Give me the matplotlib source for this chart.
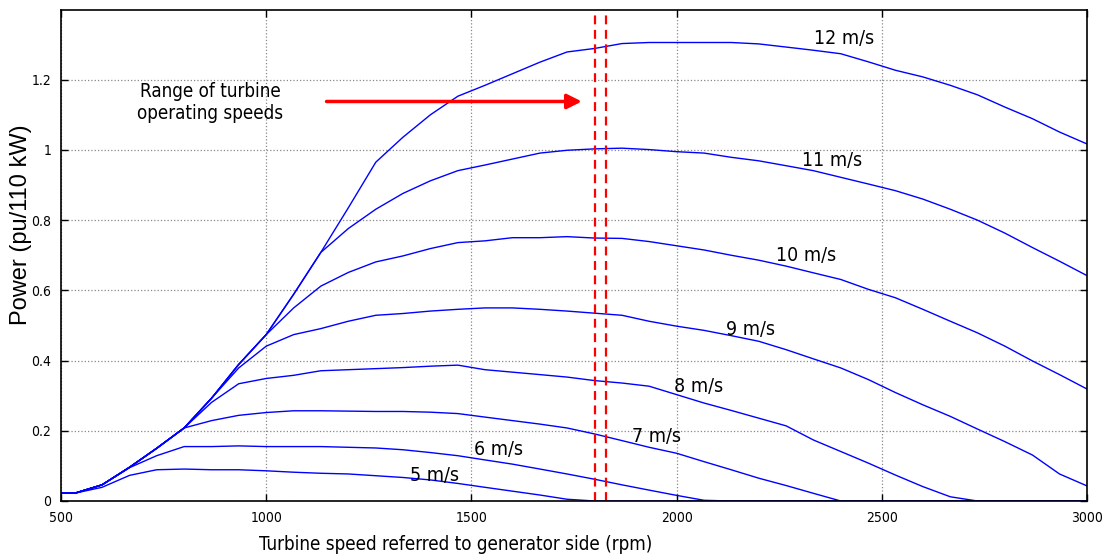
import matplotlib
matplotlib.use("Agg")
import matplotlib.pyplot as plt

# Turbine power curves, one per wind speed
rpm = [500, 533, 600, 667, 733, 800, 867, 933, 1000, 1067, 1133, 1200, 1267,
       1333, 1400, 1467, 1533, 1600, 1667, 1733, 1800, 1867, 1933, 2000, 2067,
       2133, 2200, 2267, 2333, 2400, 2467, 2533, 2600, 2667, 2733, 2800, 2867,
       2933, 3000]

p12 = [0.022, 0.022, 0.046, 0.096, 0.150, 0.208, 0.293, 0.389, 0.474, 0.589,
       0.708, 0.835, 0.965, 1.036, 1.100, 1.153, 1.184, 1.217, 1.250, 1.279,
       1.289, 1.303, 1.306, 1.306, 1.306, 1.306, 1.302, 1.293, 1.284, 1.274,
       1.251, 1.227, 1.208, 1.184, 1.157, 1.122, 1.089, 1.051, 1.017]
p11 = [0.022, 0.022, 0.046, 0.096, 0.150, 0.208, 0.293, 0.389, 0.474, 0.589,
       0.708, 0.776, 0.831, 0.876, 0.912, 0.941, 0.957, 0.974, 0.991, 0.999,
       1.003, 1.005, 1.001, 0.995, 0.991, 0.979, 0.969, 0.955, 0.941, 0.922,
       0.903, 0.884, 0.860, 0.831, 0.800, 0.763, 0.722, 0.683, 0.642]
p10 = [0.022, 0.022, 0.046, 0.096, 0.150, 0.208, 0.293, 0.389, 0.474, 0.550,
       0.612, 0.651, 0.681, 0.698, 0.719, 0.736, 0.741, 0.750, 0.750, 0.753,
       0.749, 0.748, 0.739, 0.727, 0.715, 0.700, 0.686, 0.669, 0.650, 0.631,
       0.603, 0.579, 0.546, 0.512, 0.479, 0.441, 0.399, 0.360, 0.319]
p9 = [0.022, 0.022, 0.046, 0.096, 0.150, 0.208, 0.293, 0.379, 0.441, 0.474,
      0.491, 0.512, 0.529, 0.534, 0.541, 0.546, 0.550, 0.550, 0.546, 0.541,
      0.535, 0.529, 0.512, 0.498, 0.486, 0.471, 0.455, 0.431, 0.405, 0.379,
      0.346, 0.309, 0.274, 0.241, 0.205, 0.169, 0.131, 0.077, 0.043]
p8 = [0.022, 0.022, 0.046, 0.096, 0.150, 0.208, 0.281, 0.334, 0.349, 0.358,
      0.371, 0.374, 0.377, 0.380, 0.384, 0.387, 0.374, 0.367, 0.360, 0.353,
      0.343, 0.336, 0.327, 0.303, 0.279, 0.258, 0.236, 0.214, 0.174, 0.141,
      0.108, 0.074, 0.041, 0.012, 0.000, 0.000, 0.000, 0.000, 0.000]
p7 = [0.022, 0.022, 0.046, 0.096, 0.150, 0.208, 0.229, 0.244, 0.252, 0.257,
      0.257, 0.256, 0.255, 0.255, 0.253, 0.249, 0.239, 0.229, 0.219, 0.208,
      0.191, 0.172, 0.153, 0.136, 0.112, 0.089, 0.065, 0.044, 0.022, 0.000,
      0.000, 0.000, 0.000, 0.000, 0.000, 0.000, 0.000, 0.000, 0.000]
p6 = [0.022, 0.022, 0.046, 0.095, 0.129, 0.155, 0.155, 0.157, 0.155, 0.155,
      0.155, 0.153, 0.151, 0.146, 0.138, 0.129, 0.117, 0.105, 0.091, 0.077,
      0.062, 0.046, 0.031, 0.016, 0.002, 0.000, 0.000, 0.000, 0.000, 0.000,
      0.000, 0.000, 0.000, 0.000, 0.000, 0.000, 0.000, 0.000, 0.000]
p5 = [0.022, 0.022, 0.039, 0.073, 0.089, 0.091, 0.089, 0.089, 0.086, 0.082,
      0.079, 0.077, 0.072, 0.067, 0.060, 0.050, 0.039, 0.028, 0.017, 0.005,
      0.000, 0.000, 0.000, 0.000, 0.000, 0.000, 0.000, 0.000, 0.000, 0.000,
      0.000, 0.000, 0.000, 0.000, 0.000, 0.000, 0.000, 0.000, 0.000]

curves = [p5, p6, p7, p8, p9, p10, p11, p12]
speed_labels = ["5 m/s", "6 m/s", "7 m/s", "8 m/s", "9 m/s", "10 m/s", "11 m/s", "12 m/s"]
label_x = [1409, 1567, 1950, 2054, 2181, 2315, 2380, 2408]
label_y = [0.072, 0.146, 0.184, 0.327, 0.489, 0.698, 0.969, 1.317]

# operating speed band and the arrow pointing at it
band_rpm = [1800, 1827]
arrow_rpm = [1147, 1769]
arrow_y = 1.138

xticks = [500, 1000, 1500, 2000, 2500, 3000]
yticks = [0, 0.2, 0.4, 0.6, 0.8, 1.0, 1.2]
ytick_labels = ["0", "0.2", "0.4", "0.6", "0.8", "1", "1.2"]

cond = dict(family="DejaVu Sans", stretch="condensed")

fig = plt.figure(figsize=(11.07, 5.6), dpi=100)
ax = fig.add_axes([61 / 1107, 59 / 560, 1026 / 1107, 491.5 / 560])

for p in curves:
    ax.plot(rpm, p, color="blue", lw=1.0)

for b in band_rpm:
    ax.axvline(b, color="red", lw=1.6, ls=(0, (4, 2.5)))

ax.annotate("", xy=(arrow_rpm[1], arrow_y), xytext=(arrow_rpm[0], arrow_y),
            arrowprops=dict(arrowstyle="-|>", color="red", lw=2.5,
                            mutation_scale=22, shrinkA=0, shrinkB=0))
ax.text(863, 1.135, "Range of turbine\noperating speeds", ha="center",
        va="center", fontsize=13.5, linespacing=1.25, **cond)

for t, x, y in zip(speed_labels, label_x, label_y):
    ax.text(x, y, t, ha="center", va="center", fontsize=14, **cond)

ax.set_xlim(500, 3000)
ax.set_ylim(0, 1.4)
ax.set_xticks(xticks)
ax.set_xticklabels([str(v) for v in xticks], fontsize=10, **cond)
ax.set_yticks(yticks)
ax.set_yticklabels(ytick_labels, fontsize=10, **cond)
ax.tick_params(direction="in", length=5, width=1, top=True, right=True, pad=7)
ax.grid(True, ls=":", color="#888888", lw=0.9)
for s in ax.spines.values():
    s.set_linewidth(1.2)

fig.text(456 / 1107, (560 - 544) / 560, "Turbine speed referred to generator side (rpm)",
         ha="center", va="center", fontsize=13.5, **cond)
fig.text(21 / 1107, (560 - 225) / 560, "Power (pu/110 kW)", rotation=90,
         ha="center", va="center", fontsize=17, family=["Liberation Sans", "DejaVu Sans"])

fig.savefig("out.png", dpi=100)
